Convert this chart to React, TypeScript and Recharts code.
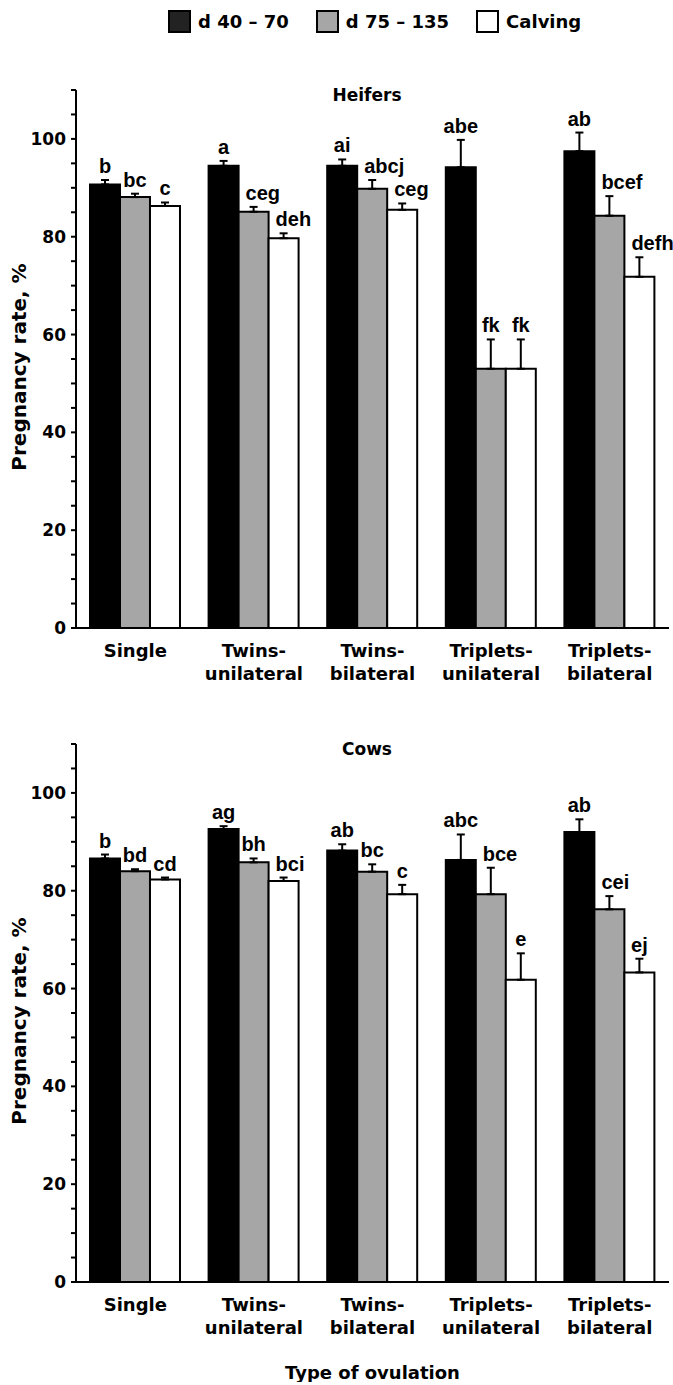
import React from "react";
import { BarChart, Bar, XAxis, YAxis, ErrorBar, LabelList, Label } from "recharts";

const FONT = "'DejaVu Sans', Verdana, sans-serif";
const LETTER_FONT = "'Liberation Sans', Arial, sans-serif";

const categories = [
  "Single",
  "Twins-\nunilateral",
  "Twins-\nbilateral",
  "Triplets-\nunilateral",
  "Triplets-\nbilateral",
];
const seriesNames = ["d 40 – 70", "d 75 – 135", "Calving"];
const yTicks = [0, 5, 10, 15, 20, 25, 30, 35, 40, 45, 50, 55, 60, 65, 70, 75, 80, 85, 90, 95, 100, 105, 110];
const boundaryTicks = [0, 1, 2, 3, 4, 5];

// Heifers
const heiferEarly = [90.7, 94.5, 94.5, 94.2, 97.5];
const heiferEarlyErr = [0.9, 1.0, 1.3, 5.6, 3.8];
const heiferEarlyLetters = ["b", "a", "ai", "abe", "ab"];
const heiferLate = [88.1, 85.1, 89.8, 53.0, 84.3];
const heiferLateErr = [0.7, 1.0, 1.8, 6.0, 4.0];
const heiferLateLetters = ["bc", "ceg", "abcj", "fk", "bcef"];
const heiferCalving = [86.3, 79.7, 85.5, 53.0, 71.8];
const heiferCalvingErr = [0.7, 1.0, 1.3, 6.0, 4.0];
const heiferCalvingLetters = ["c", "deh", "ceg", "fk", "defh"];

// Cows
const cowEarly = [86.6, 92.6, 88.2, 86.3, 92.0];
const cowEarlyErr = [0.8, 0.6, 1.3, 5.2, 2.6];
const cowEarlyLetters = ["b", "ag", "ab", "abc", "ab"];
const cowLate = [84.0, 85.8, 83.9, 79.3, 76.2];
const cowLateErr = [0.4, 0.8, 1.5, 5.4, 2.7];
const cowLateLetters = ["bd", "bh", "bc", "bce", "cei"];
const cowCalving = [82.3, 82.0, 79.3, 61.8, 63.3];
const cowCalvingErr = [0.4, 0.7, 1.9, 5.4, 2.8];
const cowCalvingLetters = ["cd", "bci", "c", "e", "ej"];

const FILLS = ["#000000", "#a6a6a6", "#ffffff"];
const LEGEND_FILLS = ["#222222", "#a6a6a6", "#ffffff"];

interface Series {
  values: number[];
  errs: number[];
  letters: string[];
}

// letters sit above the error cap; longer labels on grey/white bars start just left of the error bar
const letterLabel = (values: number[], errs: number[], series: number) => (props: any) => {
  const vb = props.viewBox || props;
  const { x, y, width, height } = vb;
  const i = props.index;
  if (i == null || !values[i]) return null;
  const pxPerUnit = height / values[i];
  const capY = y - errs[i] * pxPerUnit;
  const text = String(props.value);
  const cx = x + width / 2;
  const leftAlign = series > 0 && text.length >= 3;
  return (
    <text
      x={leftAlign ? cx - 8 : cx}
      y={capY - 7}
      textAnchor={leftAlign ? "start" : "middle"}
      fontFamily={LETTER_FONT}
      fontWeight={700}
      fontSize={20}
      fill="#000"
    >
      {text}
    </text>
  );
};

const CatTick = (props: any) => {
  const { x, y, payload } = props;
  const lines = String(payload.value).split("\n");
  return (
    <text textAnchor="middle" fontFamily={FONT} fontWeight={700} fontSize={18} fill="#000">
      {lines.map((l, i) => (
        <tspan key={i} x={x} y={y + 29 + i * 23}>
          {l}
        </tspan>
      ))}
    </text>
  );
};

const YLabel = (props: any) => {
  const vb = props.viewBox;
  const cx = 19;
  const cy = vb.y + vb.height / 2 + 8;
  return (
    <text
      x={cx}
      y={cy}
      transform={`rotate(-90, ${cx}, ${cy})`}
      textAnchor="middle"
      dominantBaseline="central"
      fontFamily={FONT}
      fontWeight={700}
      fontSize={20}
      fill="#000"
    >
      Pregnancy rate, %
    </text>
  );
};

interface PanelProps {
  top: number;
  title: string;
  series: Series[];
  xTitle?: string;
}

const Panel: React.FC<PanelProps> = ({ top, title, series, xTitle }) => {
  const rows = categories.map((cat, i) => {
    const row: any = { cat };
    series.forEach((s, k) => {
      row[`v${k}`] = s.values[i];
      row[`e${k}`] = [0, s.errs[i]];
      row[`l${k}`] = s.letters[i];
    });
    return row;
  });
  const xHeight = xTitle ? 100 : 60;
  return (
    <div style={{ position: "absolute", left: 0, top, width: 673 }}>
      <BarChart
        width={673}
        height={90 + 538 + xHeight}
        data={rows}
        margin={{ top: 90, right: 4, left: 0, bottom: 0 }}
        barCategoryGap="11.8%"
        barGap={0}
      >
        <XAxis
          xAxisId="num"
          type="number"
          domain={[0, 5]}
          ticks={boundaryTicks}
          allowDataOverflow
          tick={false}
          tickSize={6}
          axisLine={false}
          tickLine={{ stroke: "#000", strokeWidth: 2 }}
          height={0}
        />
        <XAxis
          xAxisId="cat"
          dataKey="cat"
          type="category"
          interval={0}
          tickLine={false}
          tickSize={0}
          tickMargin={0}
          axisLine={{ stroke: "#000", strokeWidth: 2 }}
          tick={<CatTick />}
          height={xHeight}
        >
          {xTitle && (
            <Label
              content={(p: any) => {
                const vb = p.viewBox;
                return (
                  <text
                    x={vb.x + vb.width / 2}
                    y={vb.y + 97}
                    textAnchor="middle"
                    fontFamily={FONT}
                    fontWeight={700}
                    fontSize={18}
                    fill="#000"
                  >
                    {xTitle}
                  </text>
                );
              }}
            />
          )}
        </XAxis>
        <YAxis
          domain={[0, 110]}
          ticks={yTicks}
          interval={0}
          width={76}
          tickSize={5}
          tickMargin={5}
          tickFormatter={(v: number) => (v % 20 === 0 ? String(v) : "")}
          axisLine={{ stroke: "#000", strokeWidth: 2 }}
          tickLine={{ stroke: "#000", strokeWidth: 2 }}
          tick={{ fill: "#000", fontSize: 17, fontWeight: 700, fontFamily: FONT }}
        >
          <Label content={<YLabel />} />
        </YAxis>
        {series.map((s, k) => (
          <Bar
            key={k}
            xAxisId="cat"
            dataKey={`v${k}`}
            name={seriesNames[k]}
            fill={FILLS[k]}
            stroke="#000"
            strokeWidth={2}
            isAnimationActive={false}
          >
            <ErrorBar
              dataKey={`e${k}`}
              direction="y"
              width={4}
              stroke="#000"
              strokeWidth={2}
              isAnimationActive={false}
            />
            <LabelList dataKey={`l${k}`} content={letterLabel(s.values, s.errs, k)} />
          </Bar>
        ))}
      </BarChart>
      <div
        style={{
          position: "absolute",
          left: 267,
          top: 85,
          width: 200,
          textAlign: "center",
          fontFamily: FONT,
          fontWeight: 700,
          fontSize: 17,
          lineHeight: "20px",
          color: "#000",
        }}
      >
        {title}
      </div>
    </div>
  );
};

const Legend: React.FC = () => (
  <div
    style={{
      position: "absolute",
      left: 168,
      top: 10,
      display: "flex",
      alignItems: "center",
      fontFamily: FONT,
      fontWeight: 700,
      fontSize: 18,
      color: "#000",
    }}
  >
    {seriesNames.map((n, k) => (
      <div key={k} style={{ display: "flex", alignItems: "center", marginRight: 27 }}>
        <div
          style={{
            width: 23,
            height: 23,
            boxSizing: "border-box",
            border: "2px solid #000",
            background: LEGEND_FILLS[k],
            marginRight: 7,
          }}
        />
        <span style={{ lineHeight: "23px" }}>{n}</span>
      </div>
    ))}
  </div>
);

export default function App() {
  return (
    <div style={{ position: "absolute", left: 0, top: 0, width: 673, height: 1385, background: "#fff" }}>
      <Legend />
      <Panel
        top={0}
        title="Heifers"
        series={[
          { values: heiferEarly, errs: heiferEarlyErr, letters: heiferEarlyLetters },
          { values: heiferLate, errs: heiferLateErr, letters: heiferLateLetters },
          { values: heiferCalving, errs: heiferCalvingErr, letters: heiferCalvingLetters },
        ]}
      />
      <Panel
        top={654}
        title="Cows"
        xTitle="Type of ovulation"
        series={[
          { values: cowEarly, errs: cowEarlyErr, letters: cowEarlyLetters },
          { values: cowLate, errs: cowLateErr, letters: cowLateLetters },
          { values: cowCalving, errs: cowCalvingErr, letters: cowCalvingLetters },
        ]}
      />
    </div>
  );
}
